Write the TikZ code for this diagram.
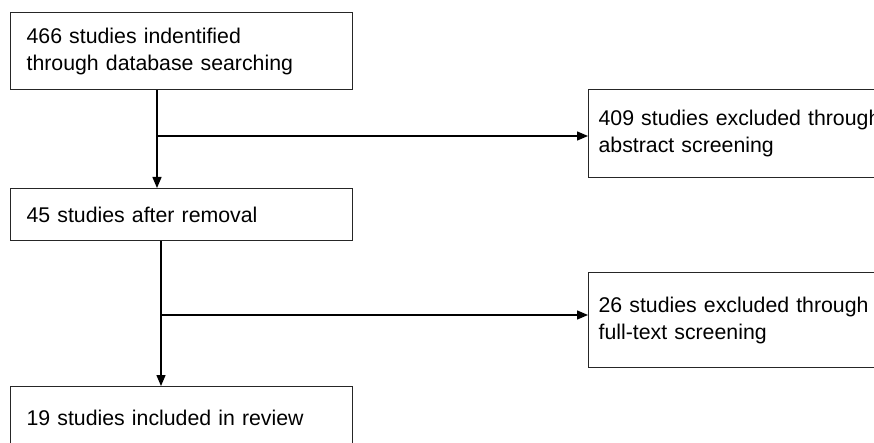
\documentclass[tikz,border=0pt]{standalone}
\usepackage{fontspec}
\setmainfont{Liberation Sans}
\usetikzlibrary{arrows.meta}
\begin{document}
\begin{tikzpicture}[x=1pt,y=1pt,
  box/.style={draw=black!85, line width=1.2pt, anchor=north west, align=left,
    font=\fontsize{21.3}{27}\selectfont, inner ysep=0pt},
  leftbox/.style={box, minimum width=342pt, inner xsep=16pt, text width=310pt},
  rightbox/.style={box, minimum width=340pt, inner xsep=10pt, text width=320pt},
  arr/.style={line width=1.4pt, -{Triangle[length=11pt,width=9pt]}}]
\useasboundingbox (0,0) rectangle (874,-443);
\clip (0,0) rectangle (874,-443);
\node[leftbox, minimum height=77pt] (b1) at (10,-12) {466 studies indentified\\through database searching};
\node[leftbox, minimum height=52pt] (b2) at (10,-188) {45 studies after removal};
\node[leftbox, minimum height=63pt] (b3) at (10,-386) {19 studies included in review};
\node[rightbox, minimum height=88pt] (r1) at (588,-89) {409 studies excluded through\\abstract screening};
\node[rightbox, minimum height=95pt] (r2) at (588,-272) {26 studies excluded through\\full-text screening};
\coordinate (j1) at (157,-136);
\coordinate (j2) at (161,-315);
\draw[arr] (j1 |- b1.south) -- (j1 |- b2.north);
\draw[arr] (j1) -- (r1.west |- j1);
\draw[arr] (j2 |- b2.south) -- (j2 |- b3.north);
\draw[arr] (j2) -- (r2.west |- j2);
\end{tikzpicture}
\end{document}
